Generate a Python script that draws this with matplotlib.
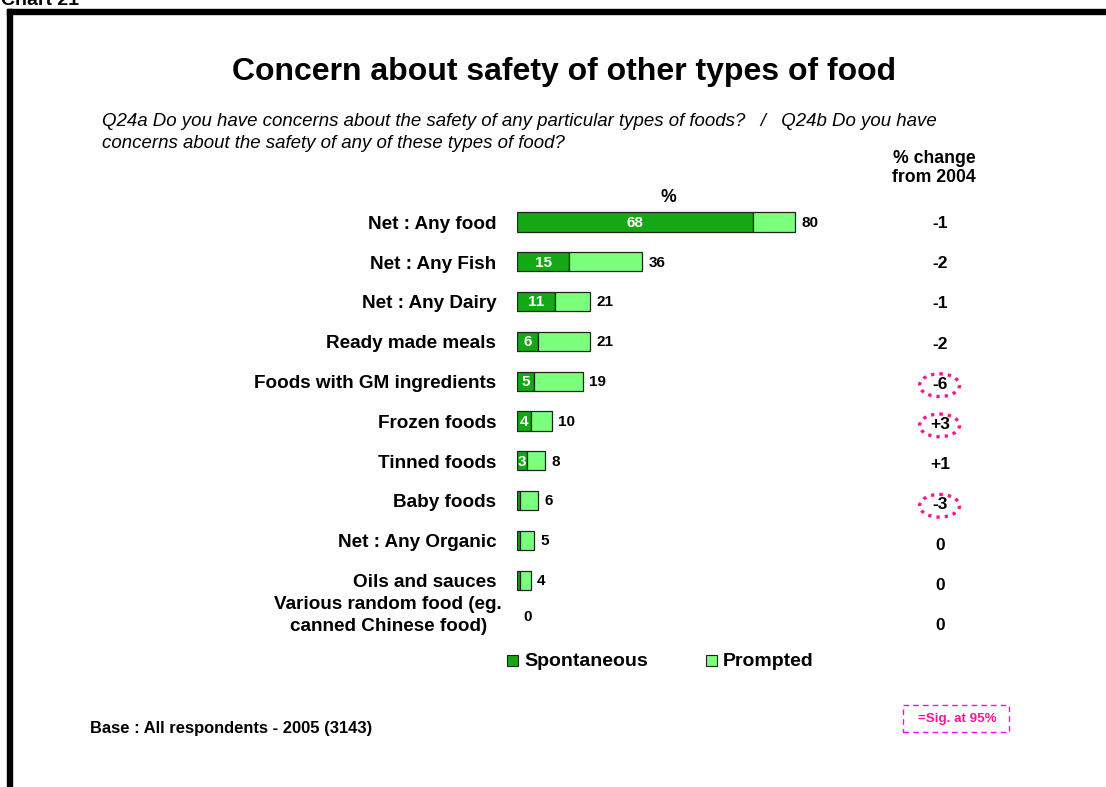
import matplotlib.pyplot as plt
from matplotlib.patches import Rectangle, Ellipse

plt.rcParams['font.family'] = ['Liberation Sans', 'DejaVu Sans']

categories = ['Net : Any food', 'Net : Any Fish', 'Net : Any Dairy', 'Ready made meals',
              'Foods with GM ingredients', 'Frozen foods', 'Tinned foods', 'Baby foods',
              'Net : Any Organic', 'Oils and sauces',
              'Various random food (eg.\ncanned Chinese food)']
spontaneous = [68, 15, 11, 6, 5, 4, 3, 1, 1, 1, 0]
total = [80, 36, 21, 21, 19, 10, 8, 6, 5, 4, 0]
change = ['-1', '-2', '-1', '-2', '-6', '+3', '+1', '-3', '0', '0', '0']
significant = [False, False, False, False, True, True, False, True, False, False, False]

dark_green = '#14a814'
light_green = '#7cff7c'
pink = '#ff1493'

W, H = 1106, 787
fig = plt.figure(figsize=(W / 100, H / 100), dpi=100)


def fx(x):
    return x / W


def fy(y):
    return 1 - y / H


# bar area: 3.475 px per percentage point, rows ~39.8 px apart
px_per_pt = 3.475
row_h = 39.8
top = 222 - row_h / 2
ax = fig.add_axes([fx(517), fy(top + row_h * 11), 100 * px_per_pt / W, row_h * 11 / H])
ax.set_xlim(0, 100)
ax.set_ylim(10.5, -0.5)
ax.axis('off')

rows = list(range(len(categories)))
prompted = [t - s for t, s in zip(total, spontaneous)]
ax.barh(rows, spontaneous, height=0.48, color=dark_green, edgecolor='#222222',
        linewidth=[0.9 if v > 0 else 0 for v in spontaneous])
ax.barh(rows, prompted, left=spontaneous, height=0.48, color=light_green,
        edgecolor='#222222', linewidth=[0.9 if v > 0 else 0 for v in prompted])

for i in rows:
    if spontaneous[i] >= 3:
        ax.text(spontaneous[i] / 2, i + 0.02, str(spontaneous[i]), color='white', fontsize=11,
                fontweight='bold', ha='center', va='center')
    ax.text(total[i] + 1.8, i - (0.1 if total[i] == 0 else 0) + 0.02, str(total[i]),
            fontsize=11, fontweight='bold', ha='left', va='center')
    two_line = '\n' in categories[i]
    ax.text(-4.3 if two_line else -6, i - 0.12 if two_line else i + 0.06, categories[i],
            fontsize=13.6, fontweight='bold', ha='right', va='center', ma='center',
            clip_on=False, linespacing=1.4)
    cy = i + 0.04 + 0.01 * i
    ax.text(121.7, cy, change[i], fontsize=12.5, fontweight='bold', ha='center',
            va='center', clip_on=False)
    if significant[i]:
        ax.add_patch(Ellipse((121.6, cy + 0.02), 11.5, 0.57, fill=False, edgecolor=pink,
                             linestyle=(0, (1, 1.5)), linewidth=2.4, clip_on=False))

# frame
fig.add_artist(Rectangle((fx(7), fy(14)), 1 - fx(7), 5 / H, color='black',
                         transform=fig.transFigure))
fig.add_artist(Rectangle((fx(7), 0), 5 / W, fy(9), color='black',
                         transform=fig.transFigure))
fig.text(fx(1), fy(5), 'Chart 21', fontsize=14, fontweight='bold', va='baseline')

fig.text(fx(564), fy(72), 'Concern about safety of other types of food', fontsize=23,
         fontweight='bold', ha='center', va='center')
fig.text(fx(102), fy(122), 'Q24a Do you have concerns about the safety of any particular '
         'types of foods?   /   Q24b Do you have', fontsize=13.4, style='italic', va='center')
fig.text(fx(102), fy(143), 'concerns about the safety of any of these types of food?',
         fontsize=13.4, style='italic', va='center')
fig.text(fx(934), fy(168), '% change\nfrom 2004', fontsize=12.7, fontweight='bold',
         ha='center', va='center', linespacing=1.2)
fig.text(fx(668), fy(197), '%', fontsize=12.7, fontweight='bold', ha='center', va='center')

# legend
fig.add_artist(Rectangle((fx(507), fy(666)), 11 / W, 11 / H, facecolor=dark_green,
                         edgecolor='#222222', linewidth=0.8, transform=fig.transFigure))
fig.text(fx(524), fy(662), 'Spontaneous', fontsize=14, fontweight='bold', va='center')
fig.add_artist(Rectangle((fx(706), fy(666)), 11 / W, 11 / H, facecolor=light_green,
                         edgecolor='#222222', linewidth=0.8, transform=fig.transFigure))
fig.text(fx(723), fy(662), 'Prompted', fontsize=14, fontweight='bold', va='center')

fig.text(fx(90), fy(728), 'Base : All respondents - 2005 (3143)', fontsize=11.9,
         fontweight='bold', va='center')

fig.add_artist(Rectangle((fx(903), fy(732)), 106 / W, 27 / H, fill=False, edgecolor='#ff00ff',
                         linestyle=(0, (4, 3)), linewidth=1, transform=fig.transFigure))
fig.text(fx(957), fy(719), '=Sig. at 95%', fontsize=9.6, fontweight='bold', color=pink,
         ha='center', va='center')

fig.savefig('out.png', dpi=100)
